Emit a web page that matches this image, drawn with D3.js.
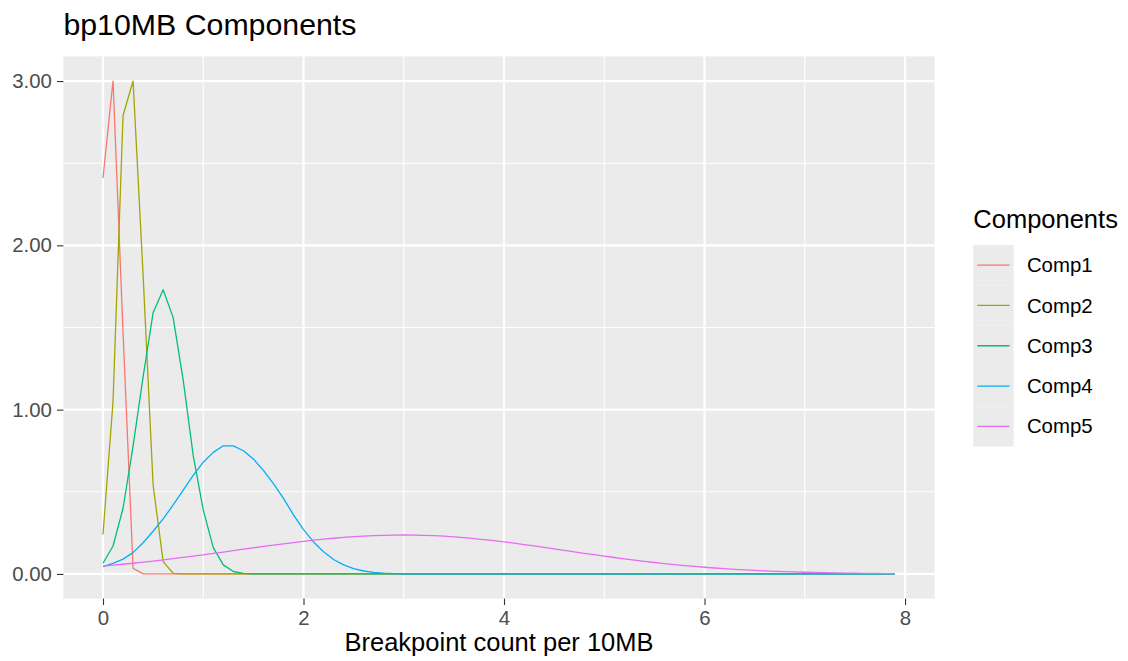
<!DOCTYPE html>
<html>
<head>
<meta charset="utf-8">
<script src="https://cdn.jsdelivr.net/npm/d3@7"></script>
<style>
  html, body { margin: 0; padding: 0; background: #ffffff; }
  svg { display: block; font-family: "Liberation Sans", Arial, Helvetica, sans-serif; }
</style>
</head>
<body>
<svg id="chart" width="1128" height="661"></svg>
<script>
// ---------------- data ----------------
const title = "bp10MB Components";
const xTitle = "Breakpoint count per 10MB";
const legendTitle = "Components";
const seriesNames = ["Comp1", "Comp2", "Comp3", "Comp4", "Comp5"];
const seriesColors = ["#F8766D", "#A3A500", "#00BF7D", "#00B0F6", "#E76BF3"];
const xTicks = [0, 2, 4, 6, 8];
const xMinor = [1, 3, 5, 7];
const yTicks = [0, 1, 2, 3];
const yMinor = [0.5, 1.5, 2.5];

const xs = [0.0,0.1,0.2,0.3,0.4,0.5,0.6,0.7,0.8,0.9,
            1.0,1.1,1.2,1.3,1.4,1.5,1.6,1.7,1.8,1.9,
            2.0,2.1,2.2,2.3,2.4,2.5,2.6,2.7,2.8,2.9,
            3.0,3.1,3.2,3.3,3.4,3.5,3.6,3.7,3.8,3.9,
            4.0,4.1,4.2,4.3,4.4,4.5,4.6,4.7,4.8,4.9,
            5.0,5.1,5.2,5.3,5.4,5.5,5.6,5.7,5.8,5.9,
            6.0,6.1,6.2,6.3,6.4,6.5,6.6,6.7,6.8,6.9,
            7.0,7.1,7.2,7.3,7.4,7.5,7.6,7.7,7.8,7.9];

const comp1 = [2.41,3.00,1.47,0.035,0.0005,0,0,0,0,0,
               0,0,0,0,0,0,0,0,0,0,
               0,0,0,0,0,0,0,0,0,0,
               0,0,0,0,0,0,0,0,0,0,
               0,0,0,0,0,0,0,0,0,0,
               0,0,0,0,0,0,0,0,0,0,
               0,0,0,0,0,0,0,0,0,0,
               0,0,0,0,0,0,0,0,0,0];

const comp2 = [0.24,1.05,2.79,3.00,1.82,0.54,0.075,0.004,0,0,
               0,0,0,0,0,0,0,0,0,0,
               0,0,0,0,0,0,0,0,0,0,
               0,0,0,0,0,0,0,0,0,0,
               0,0,0,0,0,0,0,0,0,0,
               0,0,0,0,0,0,0,0,0,0,
               0,0,0,0,0,0,0,0,0,0,
               0,0,0,0,0,0,0,0,0,0];

const comp3 = [0.065,0.17,0.40,0.78,1.20,1.59,1.73,1.56,1.18,0.72,
               0.39,0.16,0.055,0.015,0.004,0.001,0,0,0,0,
               0,0,0,0,0,0,0,0,0,0,
               0,0,0,0,0,0,0,0,0,0,
               0,0,0,0,0,0,0,0,0,0,
               0,0,0,0,0,0,0,0,0,0,
               0,0,0,0,0,0,0,0,0,0,
               0,0,0,0,0,0,0,0,0,0];

const comp4 = [0.045,0.065,0.09,0.13,0.19,0.26,0.335,0.42,0.51,0.60,
               0.68,0.74,0.78,0.78,0.75,0.70,0.63,0.55,0.46,0.36,
               0.27,0.195,0.135,0.088,0.055,0.033,0.018,0.010,0.005,0.0025,
               0.001,0.0005,0.0002,0.0001,0,0,0,0,0,0,
               0,0,0,0,0,0,0,0,0,0,
               0,0,0,0,0,0,0,0,0,0,
               0,0,0,0,0,0,0,0,0,0,
               0,0,0,0,0,0,0,0,0,0];

const comp5 = [0.048,0.0534,0.059,0.0651,0.0715,0.0783,0.0854,0.0928,0.1005,0.1085,
               0.1166,0.1249,0.1334,0.142,0.1505,0.159,0.1674,0.1756,0.1836,0.1912,
               0.1985,0.2053,0.2116,0.2173,0.2223,0.2267,0.2304,0.2333,0.2353,0.2366,
               0.237,0.2365,0.2352,0.2329,0.2297,0.2257,0.2209,0.2154,0.2091,0.2023,
               0.1949,0.1871,0.1789,0.1703,0.1616,0.1527,0.1437,0.1347,0.1258,0.117,
               0.1085,0.1001,0.092,0.0843,0.0769,0.0698,0.0632,0.057,0.0512,0.0458,
               0.0408,0.0362,0.032,0.0282,0.0247,0.0216,0.0188,0.0163,0.0141,0.0121,
               0.0104,0.0089,0.0075,0.0064,0.0054,0.0045,0.0038,0.0032,0.0026,0.0022];

const seriesValues = [comp1, comp2, comp3, comp4, comp5];

// ---------------- layout ----------------
const W = 1128, H = 661;
const panel = { left: 63.4, right: 934.6, top: 56.4, bottom: 598.6 };

const svg = d3.select("#chart");

const xMin = d3.min(xs), xMax = d3.max(xs);
const xPad = (xMax - xMin) * 0.05;
const allY = seriesValues.flat();
const yMin = d3.min(allY), yMax = d3.max(allY);
const yPad = (yMax - yMin) * 0.05;

const x = d3.scaleLinear().domain([xMin - xPad, xMax + xPad]).range([panel.left, panel.right]);
const y = d3.scaleLinear().domain([yMin - yPad, yMax + yPad]).range([panel.bottom, panel.top]);

// panel background
svg.append("rect")
  .attr("x", panel.left).attr("y", panel.top)
  .attr("width", panel.right - panel.left).attr("height", panel.bottom - panel.top)
  .attr("fill", "#EBEBEB");

const grid = svg.append("g");
// minor gridlines
grid.selectAll("line.xminor").data(xMinor).enter().append("line")
  .attr("x1", d => x(d)).attr("x2", d => x(d))
  .attr("y1", panel.top).attr("y2", panel.bottom)
  .attr("stroke", "#ffffff").attr("stroke-width", 1.1);
grid.selectAll("line.yminor").data(yMinor).enter().append("line")
  .attr("y1", d => y(d)).attr("y2", d => y(d))
  .attr("x1", panel.left).attr("x2", panel.right)
  .attr("stroke", "#ffffff").attr("stroke-width", 1.1);
// major gridlines
grid.selectAll("line.xmajor").data(xTicks).enter().append("line")
  .attr("x1", d => x(d)).attr("x2", d => x(d))
  .attr("y1", panel.top).attr("y2", panel.bottom)
  .attr("stroke", "#ffffff").attr("stroke-width", 2.2);
grid.selectAll("line.ymajor").data(yTicks).enter().append("line")
  .attr("y1", d => y(d)).attr("y2", d => y(d))
  .attr("x1", panel.left).attr("x2", panel.right)
  .attr("stroke", "#ffffff").attr("stroke-width", 2.2);

// lines
const line = d3.line().x((d, i) => x(xs[i])).y(d => y(d));
const clipId = "panelclip";
svg.append("clipPath").attr("id", clipId).append("rect")
  .attr("x", panel.left).attr("y", panel.top)
  .attr("width", panel.right - panel.left).attr("height", panel.bottom - panel.top);
const linesG = svg.append("g").attr("clip-path", `url(#${clipId})`);
seriesValues.forEach((vals, k) => {
  linesG.append("path")
    .datum(vals)
    .attr("d", line)
    .attr("fill", "none")
    .attr("stroke", seriesColors[k])
    .attr("stroke-width", 1.3)
    .attr("stroke-linejoin", "round");
});

// axes
const xAxis = d3.axisBottom(x).tickValues(xTicks).tickSize(6.4).tickPadding(5.5).tickFormat(d3.format("d"));
const gx = svg.append("g").attr("transform", `translate(0,${panel.bottom})`).call(xAxis);
gx.select(".domain").remove();
gx.selectAll(".tick line").attr("stroke", "#333333").attr("stroke-width", 1.1);
gx.selectAll(".tick text").attr("fill", "#4D4D4D").attr("font-size", "20.4px")
  .attr("font-family", "Liberation Sans, Arial, sans-serif");

const yAxis = d3.axisLeft(y).tickValues(yTicks).tickSize(6.4).tickPadding(5.1).tickFormat(d3.format(".2f"));
const gy = svg.append("g").attr("transform", `translate(${panel.left},0)`).call(yAxis);
gy.select(".domain").remove();
gy.selectAll(".tick line").attr("stroke", "#333333").attr("stroke-width", 1.1);
gy.selectAll(".tick text").attr("fill", "#4D4D4D").attr("font-size", "20.4px")
  .attr("font-family", "Liberation Sans, Arial, sans-serif");

// titles
svg.append("text")
  .attr("x", panel.left).attr("y", 35)
  .attr("font-size", "30.3px").attr("fill", "#000000")
  .text(title);

svg.append("text")
  .attr("x", (panel.left + panel.right) / 2).attr("y", 651)
  .attr("text-anchor", "middle")
  .attr("font-size", "25.5px").attr("fill", "#000000")
  .text(xTitle);

// legend
const lg = svg.append("g");
const legX = 973.3, legTop = 245, keyW = 40.3, keyH = 40.3;
lg.append("text")
  .attr("x", legX).attr("y", 228)
  .attr("font-size", "25.5px").attr("fill", "#000000")
  .text(legendTitle);
const items = lg.selectAll("g.item").data(seriesNames).enter().append("g")
  .attr("transform", (d, i) => `translate(${legX},${legTop + i * keyH})`);
items.append("rect")
  .attr("width", keyW).attr("height", keyH)
  .attr("fill", "#EBEBEB");
items.append("line")
  .attr("x1", 4).attr("x2", keyW - 4)
  .attr("y1", keyH / 2).attr("y2", keyH / 2)
  .attr("stroke", (d, i) => seriesColors[i]).attr("stroke-width", 1.3);
items.append("text")
  .attr("x", keyW + 13.3).attr("y", keyH / 2)
  .attr("dy", "0.35em")
  .attr("font-size", "20.4px").attr("fill", "#000000")
  .text(d => d);
</script>
</body>
</html>
